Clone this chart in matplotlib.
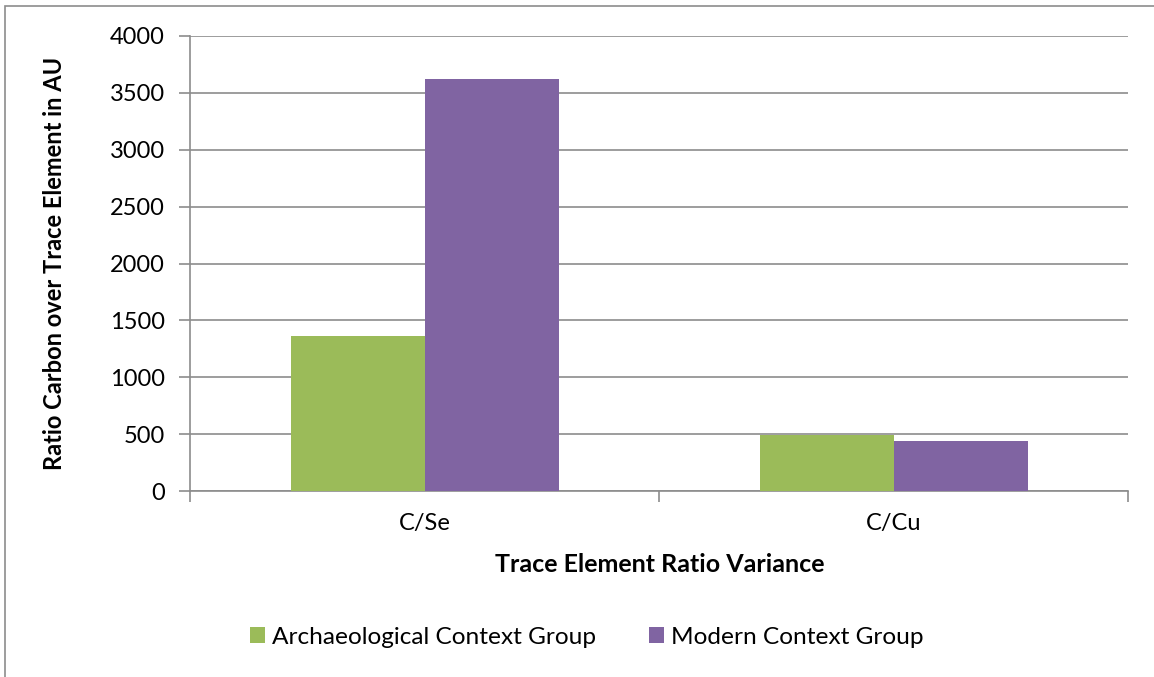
import matplotlib.pyplot as plt
from matplotlib.patches import Rectangle
import numpy as np

# data
categories = ['C/Se', 'C/Cu']
archaeological = [1361, 488]
modern = [3626, 441]
series_names = ['Archaeological Context Group', 'Modern Context Group']
yticks = [0, 500, 1000, 1500, 2000, 2500, 3000, 3500, 4000]

plt.rcParams['font.family'] = ['Lato', 'DejaVu Sans']
FS = 17

fig = plt.figure(figsize=(11.54, 6.77), dpi=100)
W, H = 1154, 677
ax = fig.add_axes([190 / W, 1 - 491 / H, (1128 - 190) / W, (491 - 36) / H])

# outer chart frame (extends past the bottom/right edges)
fig.patches.append(Rectangle((5 / W, -0.1), 1.2, 1 - 6 / H + 0.1, transform=fig.transFigure,
                             fill=False, edgecolor='#8c8c8c', linewidth=1.2))

x = np.arange(len(categories))
w = 134 / 469
ax.bar(x - w / 2, archaeological, w, color='#9BBB59', label=series_names[0], zorder=3)
ax.bar(x + w / 2, modern, w, color='#8064A2', label=series_names[1], zorder=3)

ax.set_xlim(-0.5, 1.5)
ax.set_ylim(0, 4000)
ax.set_yticks(yticks)
ax.set_yticklabels([str(v) for v in yticks], fontsize=FS)
ax.yaxis.grid(True, color='#8c8c8c', linewidth=1.2, zorder=0)
ax.set_axisbelow(True)

# category labels centred, tick marks on category boundaries
ax.set_xticks([-0.5, 0.5, 1.5])
ax.set_xticklabels([])
ax.set_xticks(x, minor=True)
ax.set_xticklabels(categories, minor=True, fontsize=FS)
ax.tick_params(axis='x', which='minor', length=0, pad=16)
ax.tick_params(axis='x', which='major', length=8, color='#8c8c8c', width=1.2)
ax.tick_params(axis='y', length=8, color='#8c8c8c', width=1.2, pad=10)

for s in ['top', 'right']:
    ax.spines[s].set_visible(False)
for s in ['left', 'bottom']:
    ax.spines[s].set_color('#8c8c8c')
    ax.spines[s].set_linewidth(1.2)

fig.text(55 / W, 1 - 263 / H, 'Ratio Carbon over Trace Element in AU', rotation=90,
         ha='center', va='center', fontsize=FS, fontweight='bold')
fig.text(660 / W, 1 - 565 / H, 'Trace Element Ratio Variance',
         ha='center', va='center', fontsize=18, fontweight='bold')

fig.legend(loc='center', bbox_to_anchor=(587 / W, 1 - 637 / H), ncol=2, frameon=False,
           fontsize=17.6, handlelength=0.6, handleheight=0.6, handletextpad=0.3,
           columnspacing=2.15)

fig.savefig('out.png', dpi=100)
